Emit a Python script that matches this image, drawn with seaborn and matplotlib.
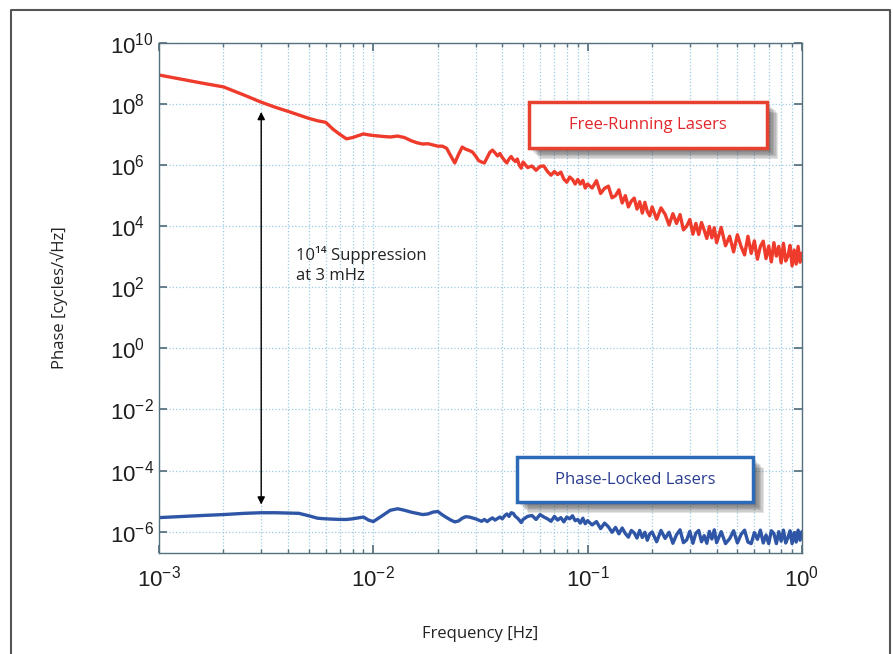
import numpy as np
import pandas as pd
import seaborn as sns
import matplotlib.pyplot as plt
from matplotlib.patches import Rectangle
from matplotlib.lines import Line2D
from matplotlib.ticker import LogLocator, NullLocator
import matplotlib.patheffects as pe

# frequency grid (Hz), shared by both traces
freq_hz = [
    0.001, 0.0013, 0.0016, 0.002, 0.0025, 0.003, 0.0035, 0.004, 0.0045, 0.005,
    0.0055, 0.006, 0.0065, 0.007, 0.0075, 0.008, 0.0085, 0.009, 0.0095, 0.010,
    0.011, 0.012, 0.013, 0.014, 0.015, 0.016, 0.017, 0.018, 0.019, 0.020,
    0.021, 0.022, 0.023, 0.024, 0.025, 0.026, 0.027, 0.028, 0.029, 0.030,
    0.031, 0.032, 0.033, 0.034, 0.035, 0.036, 0.037, 0.038, 0.039, 0.040,
    0.041, 0.042, 0.043, 0.044, 0.045, 0.046, 0.047, 0.048, 0.049,
    0.0500, 0.0525, 0.0550, 0.0575, 0.0600, 0.0625, 0.0650, 0.0675, 0.0700, 0.0725,
    0.0750, 0.0775, 0.0800, 0.0825, 0.0850, 0.0875, 0.0900, 0.0925, 0.0950, 0.0975, 0.1000,
    0.105, 0.110, 0.115, 0.120, 0.125, 0.130, 0.135, 0.140, 0.145, 0.150,
    0.155, 0.160, 0.165, 0.170, 0.175, 0.180, 0.185, 0.190, 0.195, 0.200,
    0.21, 0.22, 0.23, 0.24, 0.25, 0.26, 0.27, 0.28, 0.29, 0.30,
    0.31, 0.32, 0.33, 0.34, 0.35, 0.36, 0.37, 0.38, 0.39, 0.40,
    0.42, 0.44, 0.46, 0.48, 0.50, 0.52, 0.54, 0.56, 0.58, 0.60,
    0.62, 0.64, 0.66, 0.68, 0.70, 0.72, 0.74, 0.76, 0.78, 0.80,
    0.82, 0.84, 0.86, 0.88, 0.90, 0.92, 0.94, 0.96, 0.98, 1.00,
]

# log10 of phase noise, cycles/sqrt(Hz)
free_running_log10 = [
    8.95, 8.80, 8.68, 8.56, 8.29, 8.06, 7.89, 7.76, 7.64, 7.53,
    7.45, 7.40, 7.17, 7.00, 6.86, 6.90, 6.96, 7.02, 6.99, 6.97,
    6.94, 6.92, 6.95, 6.90, 6.80, 6.73, 6.69, 6.70, 6.66, 6.62,
    6.62, 6.55, 6.30, 6.07, 6.35, 6.59, 6.52, 6.48, 6.43, 6.30,
    6.15, 6.10, 6.07, 6.25, 6.42, 6.49, 6.40, 6.30, 6.38, 6.25,
    6.15, 6.07, 6.20, 6.28, 6.18, 6.12, 6.20, 6.00, 5.90,
    6.10, 5.92, 5.97, 5.83, 5.96, 5.97, 5.79, 5.67, 5.79, 5.69,
    5.77, 5.54, 5.44, 5.61, 5.53, 5.38, 5.53, 5.38, 5.50, 5.25, 5.38,
    5.25, 5.49, 5.07, 5.24, 5.31, 4.93, 5.00, 5.19, 4.76, 5.00,
    4.63, 4.82, 4.92, 4.56, 4.80, 4.43, 4.78, 4.48, 4.34, 4.63,
    4.23, 4.60, 4.39, 4.04, 4.41, 4.09, 4.38, 3.88, 4.00, 4.22,
    3.74, 4.09, 3.73, 4.12, 3.87, 3.60, 3.99, 3.62, 3.95, 3.46,
    3.96, 3.36, 3.67, 3.16, 3.72, 3.34, 3.06, 3.67, 3.11, 3.52,
    2.92, 3.34, 3.51, 2.94, 3.35, 2.83, 3.46, 3.02, 3.34, 2.80,
    3.44, 2.86, 3.02, 3.37, 2.70, 3.22, 2.76, 3.34, 2.82, 3.12,
]

phase_locked_log10 = [
    -5.54, -5.50, -5.47, -5.44, -5.40, -5.38, -5.38, -5.39, -5.40, -5.48,
    -5.56, -5.58, -5.59, -5.60, -5.60, -5.58, -5.55, -5.52, -5.62, -5.67,
    -5.48, -5.30, -5.25, -5.30, -5.36, -5.40, -5.44, -5.42, -5.36, -5.34,
    -5.45, -5.54, -5.62, -5.68, -5.65, -5.56, -5.51, -5.52, -5.55, -5.58,
    -5.62, -5.66, -5.60, -5.67, -5.60, -5.55, -5.62, -5.57, -5.52, -5.58,
    -5.48, -5.42, -5.50, -5.38, -5.40, -5.50, -5.55, -5.62, -5.70,
    -5.60, -5.50, -5.47, -5.60, -5.44, -5.52, -5.58, -5.66, -5.50, -5.62,
    -5.54, -5.68, -5.52, -5.58, -5.48, -5.64, -5.60, -5.72, -5.56, -5.74, -5.64,
    -5.78, -5.67, -5.90, -5.72, -5.84, -6.02, -5.86, -6.07, -5.88, -6.06,
    -6.18, -5.96, -6.04, -6.21, -5.96, -6.19, -6.02, -6.28, -6.07, -6.01,
    -6.33, -5.96, -6.22, -6.02, -6.38, -6.10, -5.94, -6.36, -6.27, -5.99,
    -6.38, -6.05, -5.96, -6.33, -6.13, -6.38, -5.99, -6.24, -5.94, -6.36,
    -6.00, -6.39, -6.23, -5.97, -6.37, -6.09, -5.95, -6.34, -6.39, -6.03,
    -6.25, -5.95, -6.37, -6.11, -6.39, -5.97, -6.06, -6.39, -6.00, -6.31,
    -5.95, -6.37, -6.20, -5.97, -6.39, -6.03, -6.34, -5.95, -6.28, -6.00,
]

y_tick_exponents = [-6, -4, -2, 0, 2, 4, 6, 8, 10]
series_names = ["Free-Running Lasers", "Phase-Locked Lasers"]

sns.set_theme(style="white")
plt.rcParams['font.family'] = ['Liberation Sans', 'DejaVu Sans']
label_font = ['Open Sans', 'Noto Sans', 'DejaVu Sans']

df = pd.DataFrame({
    "freq": freq_hz,
    series_names[0]: np.power(10.0, free_running_log10),
    series_names[1]: np.power(10.0, phase_locked_log10),
})
long_df = df.melt(id_vars="freq", var_name="series", value_name="phase")

spine_col = '#56707e'
grid_col = '#9ccbe3'
red_line = '#ef3b2c'
blue_line = '#2f56a6'

fig = plt.figure(figsize=(8.93, 6.54), dpi=100)
ax = fig.add_axes([0.178, 0.1544, 0.720, 0.780])

sns.lineplot(data=long_df, x="freq", y="phase", hue="series",
             palette={series_names[0]: red_line, series_names[1]: blue_line},
             estimator=None, lw=2.4, legend=False, ax=ax)

ax.set_xscale('log')
ax.set_yscale('log')
ax.set_xlim(1e-3, 1)
ax.set_ylim(2e-7, 1e10)

ax.set_yticks([10.0 ** e for e in y_tick_exponents])
ax.set_yticklabels([r'$\mathdefault{10^{%d}}$' % e for e in y_tick_exponents], ha='left')
ax.yaxis.set_minor_locator(NullLocator())
ax.xaxis.set_minor_locator(LogLocator(base=10, subs=np.arange(2, 10)))

ax.tick_params(which='both', direction='in', top=True, right=True,
               bottom=True, left=True, color=spine_col, labelcolor='#1e1e1e')
ax.tick_params(which='major', length=6, labelsize=16)
ax.tick_params(which='minor', length=3)
ax.tick_params(axis='x', pad=9)
ax.tick_params(axis='y', pad=35)

for s in ax.spines.values():
    s.set_color(spine_col)
    s.set_linewidth(1.0)

ax.grid(which='major', axis='both', ls=':', color=grid_col, lw=0.9)
ax.grid(which='minor', axis='x', ls=':', color=grid_col, lw=0.9)

ax.set_xlabel('Frequency [Hz]', fontsize=12, family=label_font, color='#222222')
ax.set_ylabel('Phase [cycles/√Hz]', fontsize=12, family=label_font, color='#222222')
ax.xaxis.set_label_coords(0.5, -0.143)
ax.yaxis.set_label_coords(-0.142, 0.5)

# double arrow marking the suppression at 3 mHz
ax.annotate('', xy=(3e-3, 5.5e7), xytext=(3e-3, 7.7e-6),
            arrowprops=dict(arrowstyle='<|-|>', color='black', lw=1.0,
                            mutation_scale=11, shrinkA=0, shrinkB=0))
ax.text(0.213, 0.565, '10¹⁴ Suppression\nat 3 mHz', transform=ax.transAxes,
        family=label_font, fontsize=12, ha='left', va='center',
        color='#222222', linespacing=1.35)

# label boxes with a soft drop shadow
boxes = [
    (series_names[0], (0.575, 0.794), 0.371, 0.090, '#e8412f', '#e3262b'),
    (series_names[1], (0.557, 0.100), 0.367, 0.088, '#2c6bb8', '#2a3d92'),
]
shadow = [pe.SimplePatchShadow(offset=(d, -d), shadow_rgbFace='#333333', alpha=0.13)
          for d in (2, 3, 4, 5, 6, 7, 8)]
for name, xy, w, h, edge, txt_col in boxes:
    rect = Rectangle(xy, w, h, transform=ax.transAxes, facecolor='white',
                     edgecolor=edge, lw=2.5, zorder=6, clip_on=False)
    rect.set_path_effects(shadow + [pe.Normal()])
    ax.add_patch(rect)
    ax.text(xy[0] + w / 2, xy[1] + h / 2, name, transform=ax.transAxes,
            family=label_font, fontsize=12, color=txt_col,
            ha='center', va='center', zorder=7)

# outer frame (open at the bottom)
fig.add_artist(Line2D([11 / 893, 11 / 893, 890 / 893, 890 / 893],
                      [0, 1 - 10 / 654, 1 - 10 / 654, 0],
                      transform=fig.transFigure, color='#555555', lw=1.5))

fig.savefig('out.png', dpi=100)
